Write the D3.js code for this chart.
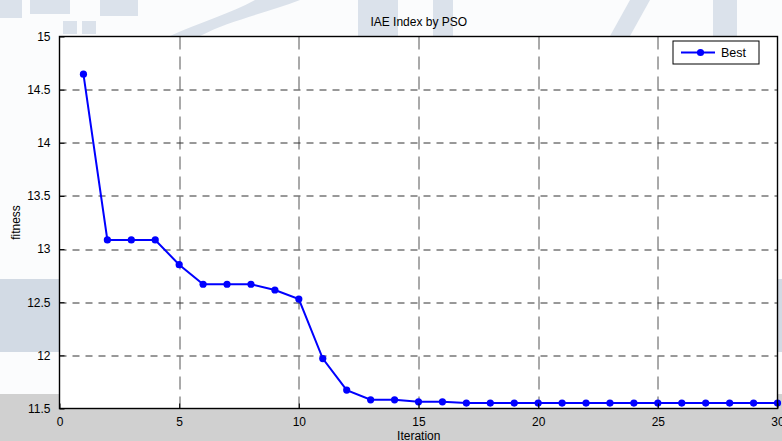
<!DOCTYPE html>
<html>
<head>
<meta charset="utf-8">
<script src="https://cdn.jsdelivr.net/npm/d3@7"></script>
<style>
  body { margin: 0; background: #ffffff; }
  svg { display: block; font-family: "Liberation Sans", Arial, sans-serif; }
</style>
</head>
<body>
<svg id="chart" width="782" height="441"></svg>
<script>

var iterations = [1, 2, 3, 4, 5, 6, 7, 8, 9, 10, 11, 12, 13, 14, 15,
                  16, 17, 18, 19, 20, 21, 22, 23, 24, 25, 26, 27, 28, 29, 30];
var bestFitness = [14.646, 13.086, 13.086, 13.086, 12.853, 12.669, 12.669, 12.669, 12.615, 12.53,
                   11.97, 11.673, 11.582, 11.582, 11.563, 11.563, 11.551, 11.551, 11.551, 11.551,
                   11.551, 11.551, 11.551, 11.551, 11.551, 11.551, 11.551, 11.551, 11.551, 11.551];
var xTicks = [0, 5, 10, 15, 20, 25, 30];
var yTicks = [11.5, 12, 12.5, 13, 13.5, 14, 14.5, 15];
var titleText = "IAE Index by PSO";
var xLabel = "Iteration";
var yLabel = "fitness";
var legendLabel = "Best";

var margin = { top: 36.5, right: 4, bottom: 32.5, left: 59.5 },
    W = 782, H = 441,
    width = W - margin.left - margin.right,
    height = H - margin.top - margin.bottom;

var svg = d3.select("#chart");

// watermark-ish background behind the axes
var wm = "#dbe2eb";
svg.append("rect").attr("x", 0).attr("y", 0).attr("width", W).attr("height", H).attr("fill", "#fbfcfd");
svg.append("rect").attr("x", 0).attr("y", 279).attr("width", W).attr("height", 73).attr("fill", "#d2dae4");
svg.append("rect").attr("x", 0).attr("y", 394).attr("width", W).attr("height", 47).attr("fill", "#d0d0d0");
[[0, 0, 22, 18], [30, 0, 40, 14], [63, 21, 14, 13], [82, 21, 14, 13], [100, 0, 38, 16],
 [358, 0, 40, 36], [433, 0, 20, 36], [713, 0, 24, 36]].forEach(function (r) {
    svg.append("rect").attr("x", r[0]).attr("y", r[1]).attr("width", r[2]).attr("height", r[3]).attr("fill", wm);
});
svg.append("path").attr("d", "M170,36 L200,36 C230,20 270,12 300,0 L255,0 C230,14 200,22 170,36 Z").attr("fill", wm);
svg.append("path").attr("d", "M610,36 L630,36 L650,0 L630,0 Z").attr("fill", wm);

var g = svg.append("g")
    .attr("transform", "translate(" + margin.left + "," + margin.top + ")");

var x = d3.scaleLinear().domain([0, 30]).range([0, width - 0.5]);
var y = d3.scaleLinear().domain([11.5, 15]).range([height, 0]);

g.append("rect")
    .attr("width", width)
    .attr("height", height)
    .attr("fill", "#ffffff");

// grid
g.selectAll(".vgrid")
    .data(xTicks.slice(1, -1))
    .enter().append("line")
    .attr("x1", function (d) { return Math.round(x(d)) + 0.5; })
    .attr("x2", function (d) { return Math.round(x(d)) + 0.5; })
    .attr("y1", 0).attr("y2", height)
    .attr("stroke", "#555").attr("stroke-width", 1)
    .attr("stroke-dasharray", "13,7");

g.selectAll(".hgrid")
    .data(yTicks.slice(1, -1))
    .enter().append("line")
    .attr("y1", function (d) { return Math.round(y(d)) + 0.5; })
    .attr("y2", function (d) { return Math.round(y(d)) + 0.5; })
    .attr("x1", 0).attr("x2", width)
    .attr("stroke", "#333").attr("stroke-width", 1)
    .attr("stroke-dasharray", "7,6");

var pts = iterations.map(function (it, i) { return { it: it, v: bestFitness[i] }; });

var line = d3.line()
    .x(function (d) { return x(d.it); })
    .y(function (d) { return y(d.v); });

g.append("path")
    .datum(pts)
    .attr("d", line)
    .attr("fill", "none")
    .attr("stroke", "#0000ff")
    .attr("stroke-width", 2);

g.selectAll(".pt")
    .data(pts)
    .enter().append("circle")
    .attr("cx", function (d) { return x(d.it); })
    .attr("cy", function (d) { return y(d.v); })
    .attr("r", 3.6)
    .attr("fill", "#0000ff");

// axes box
g.append("rect")
    .attr("width", width - 0.5)
    .attr("height", height)
    .attr("fill", "none")
    .attr("stroke", "#000")
    .attr("stroke-width", 1.4);

var xAxis = d3.axisBottom(x).tickValues(xTicks).tickSize(-5).tickPadding(9).tickFormat(d3.format("d"));
var yAxis = d3.axisLeft(y).tickValues(yTicks).tickSize(-5).tickPadding(9).tickFormat(function (d) { return String(d); });

var gx = g.append("g").attr("transform", "translate(0," + height + ")").call(xAxis);
var gy = g.append("g").call(yAxis);
[gx, gy].forEach(function (a) {
    a.select(".domain").remove();
    a.selectAll("line").attr("stroke", "#000");
    a.selectAll("text").attr("fill", "#000").style("font-size", "12px").style("font-family", "Liberation Sans, Arial, sans-serif");
});

// labels
g.append("text")
    .attr("x", width / 2)
    .attr("y", -11)
    .attr("text-anchor", "middle")
    .style("font-size", "12px")
    .text(titleText);

g.append("text")
    .attr("x", width / 2)
    .attr("y", height + 31)
    .attr("text-anchor", "middle")
    .style("font-size", "12px")
    .text(xLabel);

g.append("text")
    .attr("transform", "translate(" + (-40) + "," + (height / 2) + ") rotate(-90)")
    .attr("text-anchor", "middle")
    .style("font-size", "12px")
    .text(yLabel);

// legend
var lg = svg.append("g").attr("transform", "translate(673,41)");
lg.append("rect")
    .attr("width", 86).attr("height", 23)
    .attr("fill", "#fff").attr("stroke", "#000").attr("stroke-width", 1);
lg.append("line")
    .attr("x1", 8).attr("x2", 42).attr("y1", 11.5).attr("y2", 11.5)
    .attr("stroke", "#0000ff").attr("stroke-width", 2);
lg.append("circle").attr("cx", 27.5).attr("cy", 11.5).attr("r", 3.6).attr("fill", "#0000ff");
lg.append("text")
    .attr("x", 48).attr("y", 16)
    .style("font-size", "12.5px")
    .text(legendLabel);

</script>
</body>
</html>
